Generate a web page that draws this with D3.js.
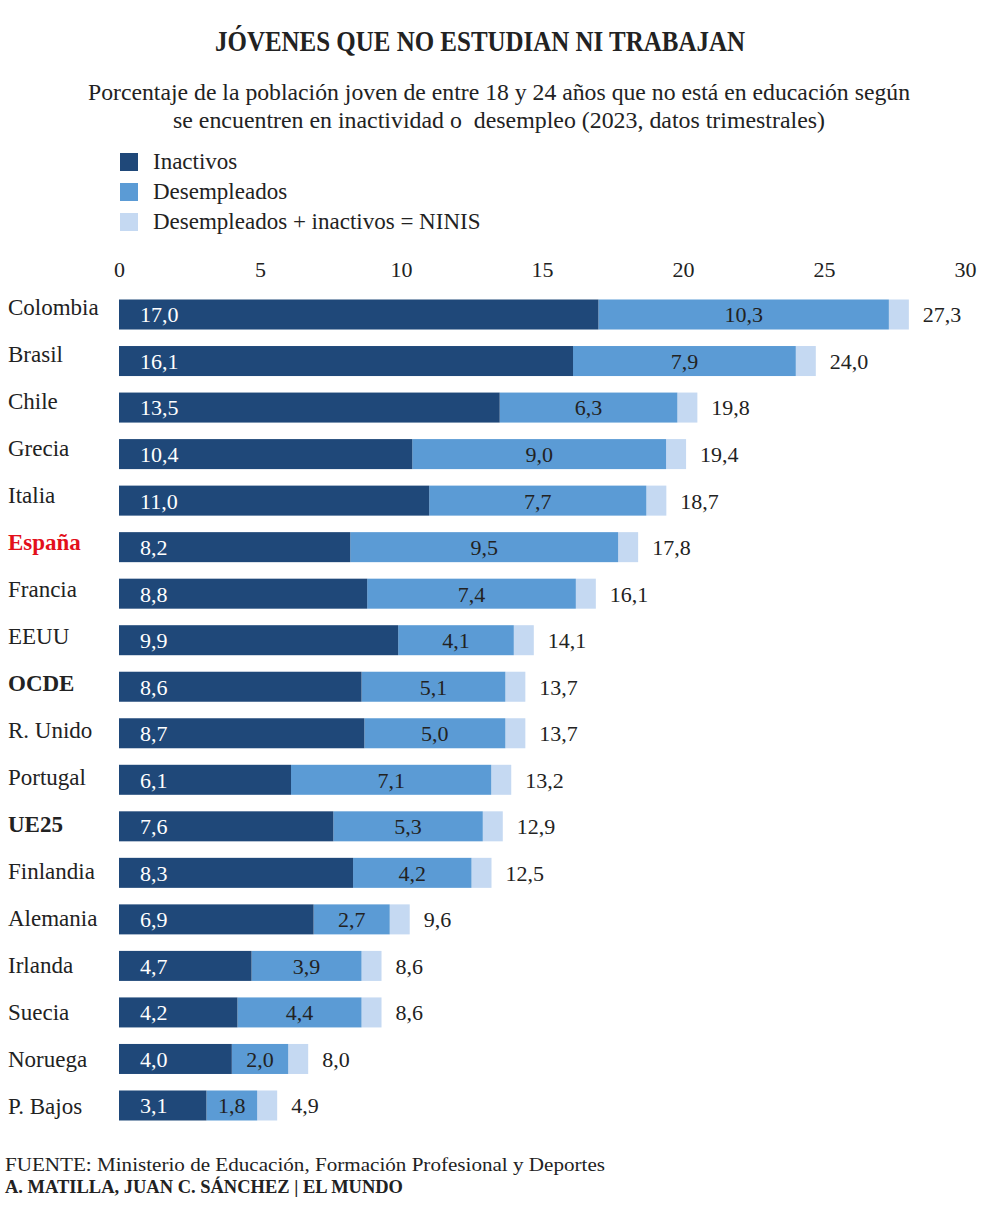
<!DOCTYPE html>
<html>
<head>
<meta charset="utf-8">
<script src="https://cdn.jsdelivr.net/npm/d3@7"></script>
<style>
  html, body { margin: 0; padding: 0; background: #ffffff; }
  svg { display: block; }
  text { font-family: "Liberation Serif", "DejaVu Serif", serif; fill: #222222; }
</style>
</head>
<body>
<svg id="chart" width="990" height="1216"></svg>
<script>
// ---------------- DATA ----------------
const countries = ["Colombia","Brasil","Chile","Grecia","Italia","España","Francia","EEUU","OCDE",
                   "R. Unido","Portugal","UE25","Finlandia","Alemania","Irlanda","Suecia","Noruega","P. Bajos"];
const inactivos    = [17.0,16.1,13.5,10.4,11.0,8.2,8.8,9.9,8.6,8.7,6.1,7.6,8.3,6.9,4.7,4.2,4.0,3.1];
const desempleados = [10.3,7.9,6.3,9.0,7.7,9.5,7.4,4.1,5.1,5.0,7.1,5.3,4.2,2.7,3.9,4.4,2.0,1.8];
const ninis        = [27.3,24.0,19.8,19.4,18.7,17.8,16.1,14.1,13.7,13.7,13.2,12.9,12.5,9.6,8.6,8.6,8.0,4.9];
const tickValues = [0,5,10,15,20,25,30];
const tickLabels = ["0","5","10","15","20","25","30"];
const legendLabels = ["Inactivos","Desempleados","Desempleados + inactivos = NINIS"];
const titleText = "JÓVENES QUE NO ESTUDIAN NI TRABAJAN";
const subtitleLines = ["Porcentaje de la población joven de entre 18 y 24 años que no está en educación según",
                       "se encuentren en inactividad o  desempleo (2023, datos trimestrales)"];
const sourceText = "FUENTE: Ministerio de Educación, Formación Profesional y Deportes";
const creditText = "A. MATILLA, JUAN C. SÁNCHEZ | EL MUNDO";

// ---------------- STYLE ----------------
const colDark = "#1f4879", colMid = "#5b9bd5", colLight = "#c5d9f2";
const legendColors = [colDark, colMid, colLight];
const boldRows = new Set(["OCDE","UE25"]);
const redRow = "España";
const capPx = 20;          // light "NINIS" cap drawn after the stacked bar
const fmt = d3.formatLocale({decimal: ",", thousands: ".", grouping: [3], currency: ["", "€"]}).format(".1f");

const rows = countries.map((c, i) => ({c, ina: inactivos[i], des: desempleados[i], tot: ninis[i]}));

const svg = d3.select("#chart");

// ---------------- SCALES ----------------
const x = d3.scaleLinear().domain([0, 30]).range([119, 965]);
const y = d3.scaleBand().domain(countries).range([299.5, 1120.5]).paddingInner(0.355).paddingOuter(0);
const yLabel = d3.scalePoint().domain(countries).range([315, 1114]);   // country-name baselines

// ---------------- TITLE ----------------
svg.append("text").attr("x", 480).attr("y", 51).attr("text-anchor", "middle")
  .attr("font-size", 29).attr("font-weight", "bold")
  .attr("textLength", 530).attr("lengthAdjust", "spacingAndGlyphs")
  .text(titleText);

const subLens = [822, 652];
subtitleLines.forEach((t, i) => {
  svg.append("text").attr("x", 499).attr("y", 100 + i * 28).attr("text-anchor", "middle")
    .attr("font-size", 23).attr("xml:space", "preserve")
    .attr("textLength", subLens[i]).attr("lengthAdjust", "spacingAndGlyphs")
    .text(t);
});

// ---------------- LEGEND ----------------
const lg = svg.append("g");
legendLabels.forEach((t, i) => {
  const cy = 162 + i * 30;
  lg.append("rect").attr("x", 120).attr("y", cy - 9).attr("width", 18).attr("height", 18).attr("fill", legendColors[i]);
  lg.append("text").attr("x", 153).attr("y", cy + 7).attr("font-size", 23).text(t);
});

// ---------------- AXIS ----------------
const axis = svg.append("g").attr("transform", "translate(0,277)")
  .call(d3.axisTop(x).tickValues(tickValues).tickSize(0).tickPadding(0)
        .tickFormat((d, i) => tickLabels[i]));
axis.select(".domain").remove();
axis.selectAll("text").attr("font-size", 22).attr("fill", "#222222")
  .attr("font-family", "Liberation Serif, DejaVu Serif, serif").attr("dy", 0);

// ---------------- BARS ----------------
const g = svg.append("g");
const row = g.selectAll("g.row").data(rows).join("g").attr("class", "row")
  .attr("transform", d => `translate(0,${y(d.c)})`);
const bh = y.bandwidth();

row.append("rect").attr("class", "light")
  .attr("x", d => x(d.ina + d.des)).attr("y", 0)
  .attr("width", capPx).attr("height", bh).attr("fill", colLight);
row.append("rect").attr("class", "mid")
  .attr("x", d => x(d.ina)).attr("y", 0)
  .attr("width", d => x(d.ina + d.des) - x(d.ina)).attr("height", bh).attr("fill", colMid);
row.append("rect").attr("class", "dark")
  .attr("x", x(0)).attr("y", 0)
  .attr("width", d => x(d.ina) - x(0)).attr("height", bh).attr("fill", colDark);

// labels inside bars
row.append("text").attr("x", x(0) + 21).attr("y", bh / 2).attr("dy", "0.36em")
  .attr("font-size", 22).style("fill", "#ffffff").text(d => fmt(d.ina));
row.append("text").attr("x", d => (x(d.ina) + x(d.ina + d.des)) / 2).attr("y", bh / 2).attr("dy", "0.36em")
  .attr("text-anchor", "middle").attr("font-size", 22).text(d => fmt(d.des));
row.append("text").attr("x", d => x(d.ina + d.des) + capPx + 14).attr("y", bh / 2).attr("dy", "0.36em")
  .attr("font-size", 22).text(d => fmt(d.tot));

// country labels
svg.append("g").selectAll("text").data(rows).join("text")
  .attr("x", 8).attr("y", d => yLabel(d.c)).attr("font-size", 23)
  .attr("font-weight", d => (boldRows.has(d.c) || d.c === redRow) ? "bold" : "normal")
  .style("fill", d => d.c === redRow ? "#e3101b" : "#222222")
  .text(d => d.c);

// ---------------- FOOTER ----------------
svg.append("text").attr("x", 5).attr("y", 1171).attr("font-size", 18)
  .attr("textLength", 600).attr("lengthAdjust", "spacingAndGlyphs").text(sourceText);
svg.append("text").attr("x", 5).attr("y", 1193).attr("font-size", 18).attr("font-weight", "bold")
  .attr("textLength", 398).attr("lengthAdjust", "spacingAndGlyphs").text(creditText);
</script>
</body>
</html>
